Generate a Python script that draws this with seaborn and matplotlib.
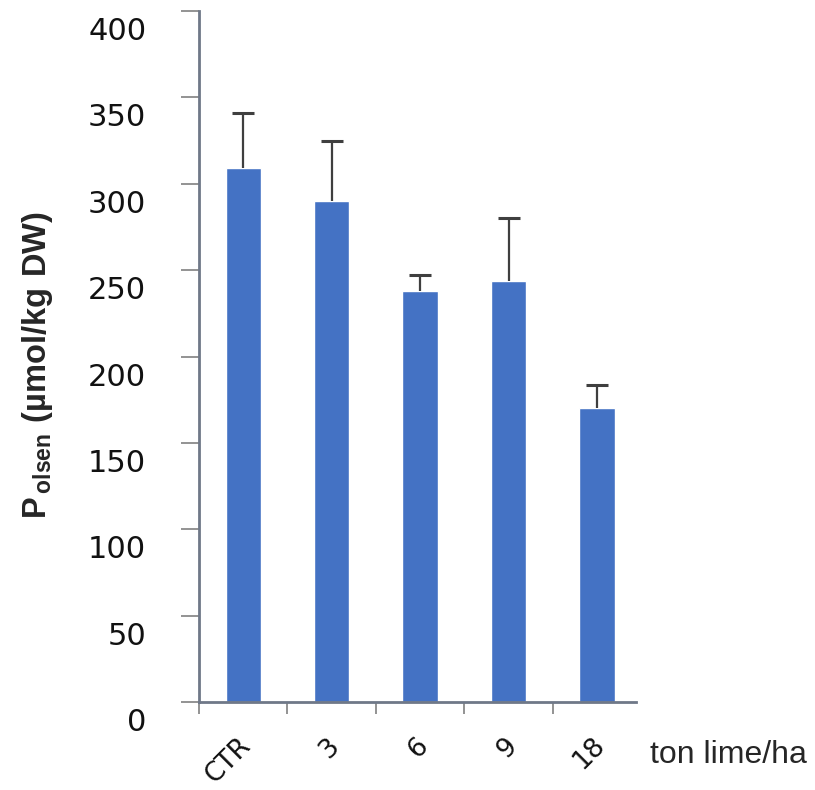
import numpy as np
import pandas as pd
import seaborn as sns
import matplotlib.pyplot as plt
from matplotlib.transforms import ScaledTranslation

# Data
doses = ["CTR", "3", "6", "9", "18"]
p_olsen = [309, 290, 238, 243.5, 170]
p_err = [32, 34.5, 9, 36.5, 13.5]

df = pd.DataFrame({"dose": doses, "p": p_olsen})

sns.set_style("ticks")
plt.rcParams["font.family"] = ["DejaVu Sans"]
plt.rcParams["mathtext.fontset"] = "custom"
plt.rcParams["mathtext.bf"] = "Liberation Sans:bold"
plt.rcParams["mathtext.rm"] = "Liberation Sans"

fig = plt.figure(figsize=(8.15, 7.9), dpi=100)
ax = fig.add_axes([199 / 815, 1 - 702 / 790, 437 / 815, 691 / 790])

bar_blue = "#4472C4"
sns.barplot(data=df, x="dose", y="p", color=bar_blue, saturation=1,
            width=0.4, errorbar=None, ax=ax)

# one-sided (upper) error bars
_, caps, _ = ax.errorbar(np.arange(len(doses)), p_olsen,
                         yerr=[np.zeros(len(doses)), p_err],
                         fmt="none", ecolor="#3f3f3f", elinewidth=1.6,
                         capsize=8, capthick=2.2, zorder=3)
caps[0].set_visible(False)

ax.set_xlim(-0.5, 4.44)
ax.set_ylim(0, 400)
sns.despine(ax=ax, top=True, right=True)

axis_col = "#6f7888"
for side in ["left", "bottom"]:
    ax.spines[side].set_color(axis_col)
    ax.spines[side].set_linewidth(2)

# y axis ticks
ax.set_yticks(np.arange(0, 401, 50))
ax.tick_params(axis="y", length=13, width=1.3, color="#8a8a8a",
               labelsize=22, pad=25, labelcolor="#111111")
yshift = ScaledTranslation(0, -17.5 / 100, fig.dpi_scale_trans)
for lbl in ax.get_yticklabels():
    lbl.set_transform(lbl.get_transform() + yshift)

# x axis: tick marks at category boundaries, labels under bars
ax.set_xticks(np.arange(-0.5, 4, 1.0))
ax.set_xticklabels([])
ax.set_xticks(np.arange(len(doses)), doses, minor=True)
ax.tick_params(axis="x", which="major", length=8.6, width=1.3, color="#8a8a8a")
ax.tick_params(axis="x", which="minor", length=0, labelsize=19, pad=22,
               labelcolor="#111111")
xshift = ScaledTranslation(-5 / 100, 0, fig.dpi_scale_trans)
for lbl in ax.get_xticklabels(minor=True):
    lbl.set_rotation(45)
    lbl.set_ha("right")
    lbl.set_va("top")
    lbl.set_rotation_mode("anchor")
    lbl.set_transform(lbl.get_transform() + xshift)

ax.set_xlabel("")
ax.set_ylabel("")

fig.text(38 / 815, 1 - 365 / 790,
         r"$\mathbf{P}_{\,\mathbf{olsen}}\ \mathbf{(µmol/kg\ DW)}$",
         rotation=90, ha="center", va="center", fontsize=23.5)

fig.text(650 / 815, 1 - 755 / 790, "ton lime/ha", ha="left", va="center",
         fontsize=23, family=["Liberation Sans", "DejaVu Sans"])

fig.savefig("out.png", dpi=100)
